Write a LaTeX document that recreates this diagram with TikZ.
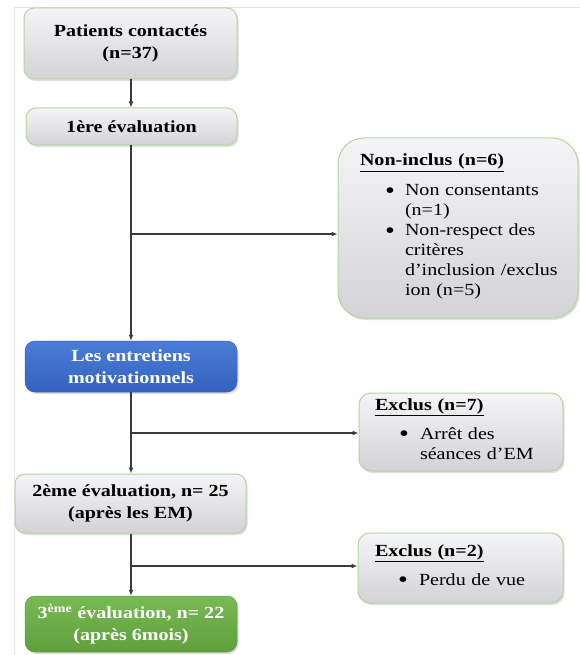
\documentclass[tikz,border=0pt]{standalone}
\usepackage{fontspec}
\setmainfont{Liberation Serif}[FakeStretch=1.18]
\usetikzlibrary{shadows,arrows.meta}
\definecolor{boxtop}{HTML}{F5F4F6}
\definecolor{boxbot}{HTML}{D3D2D6}
\definecolor{greenline}{HTML}{B3D69B}
\definecolor{bluetop}{HTML}{4A7DD8}
\definecolor{bluebot}{HTML}{3462BD}
\definecolor{greentop}{HTML}{78BA55}
\definecolor{greenbot}{HTML}{5F9F3D}
\definecolor{linegray}{HTML}{3A3A3A}
\definecolor{framegray}{HTML}{E4E4E4}
\newcommand{\bigbul}{\raisebox{-0.14em}{\scalebox{1.4}{\textbullet}}}
\begin{document}
\begin{tikzpicture}[x=1pt,y=-1pt,
  base/.style={rounded corners=10pt, inner sep=0pt,
    font=\fontsize{17}{22}\selectfont\bfseries, align=center,
    drop shadow={opacity=0.25,shadow xshift=1.5pt,shadow yshift=-2pt}},
  graybox/.style={base, draw=greenline, line width=1pt, top color=boxtop, bottom color=boxbot},
  bluebox/.style={base, draw=bluebot, line width=0.5pt, top color=bluetop, bottom color=bluebot, text=white},
  greenbox/.style={base, draw=greenbot, line width=0.5pt, top color=greentop, bottom color=greenbot, text=white},
  listbox/.style={graybox, font=\fontsize{17}{20}\selectfont, align=left},
  conn/.style={draw=linegray, line width=1.3pt},
  arr/.style={conn, -{Latex[length=6pt,width=5pt]}}]
\useasboundingbox (0,0) rectangle (580,655);
\fill[white] (0,0) rectangle (580,655);
\draw[framegray, line width=0.8pt] (14,655) -- (14,7) -- (580,7);

\node[graybox, minimum width=213pt, minimum height=71pt] (b1) at (130.5,43.5)
  {Patients contactés\\(n=37)};
\node[graybox, minimum width=211pt, minimum height=37pt] (b2) at (131.5,126.5)
  {1ère évaluation};
\node[bluebox, minimum width=212pt, minimum height=51pt] (b3) at (131,366.5)
  {Les entretiens\\motivationnels};
\node[graybox, minimum width=231pt, minimum height=59pt] (b4) at (130.5,503.5)
  {2ème évaluation, n= 25\\(après les EM)};
\node[greenbox, minimum width=212pt, minimum height=56pt] (b5) at (131,624)
  {3\textsuperscript{ème} évaluation, n= 22\\(après 6mois)};

\node[listbox, rounded corners=26pt, minimum width=240pt, minimum height=180pt,
  inner xsep=22pt, text width=196pt] (ni) at (458,228)
  {\underline{\textbf{Non-inclus (n=6)}}\\[10pt]
   \begin{tabular}[t]{@{\hspace{25pt}}p{20pt}@{}l@{}}
   \bigbul & Non consentants\\
   & (n=1)\\
   \bigbul & Non-respect des\\
   & critères\\
   & d’inclusion /exclus\\
   & ion (n=5)
   \end{tabular}};

\node[listbox, rounded corners=12pt, minimum width=204pt, minimum height=78pt,
  inner xsep=16pt, text width=172pt] (ex1) at (461,432)
  {\underline{\textbf{Exclus (n=7)}}\\[9pt]
   \begin{tabular}[t]{@{\hspace{24pt}}p{21pt}@{}l@{}}
   \bigbul & Arrêt des\\
   & séances d’EM
   \end{tabular}};

\node[listbox, rounded corners=12pt, minimum width=205pt, minimum height=70pt,
  inner xsep=17pt, text width=171pt] (ex2) at (460.5,568)
  {\underline{\textbf{Exclus (n=2)}}\\[9pt]
   \begin{tabular}[t]{@{\hspace{23pt}}p{21pt}@{}l@{}}
   \bigbul & Perdu de vue
   \end{tabular}};

\coordinate (j1) at (131,234);
\coordinate (j2) at (131,433);
\coordinate (j3) at (131,566);

\draw[arr] (b1.south -| j1) -- (b2.north -| j1);
\draw[arr] (b2.south -| j1) -- (b3.north -| j1);
\draw[arr] (j1) -- (j1 -| ni.west);
\draw[arr] (b3.south -| j2) -- (b4.north -| j2);
\draw[arr] (j2) -- (j2 -| ex1.west);
\draw[arr] (b4.south -| j3) -- (b5.north -| j3);
\draw[arr] (j3) -- (j3 -| ex2.west);
\end{tikzpicture}
\end{document}
